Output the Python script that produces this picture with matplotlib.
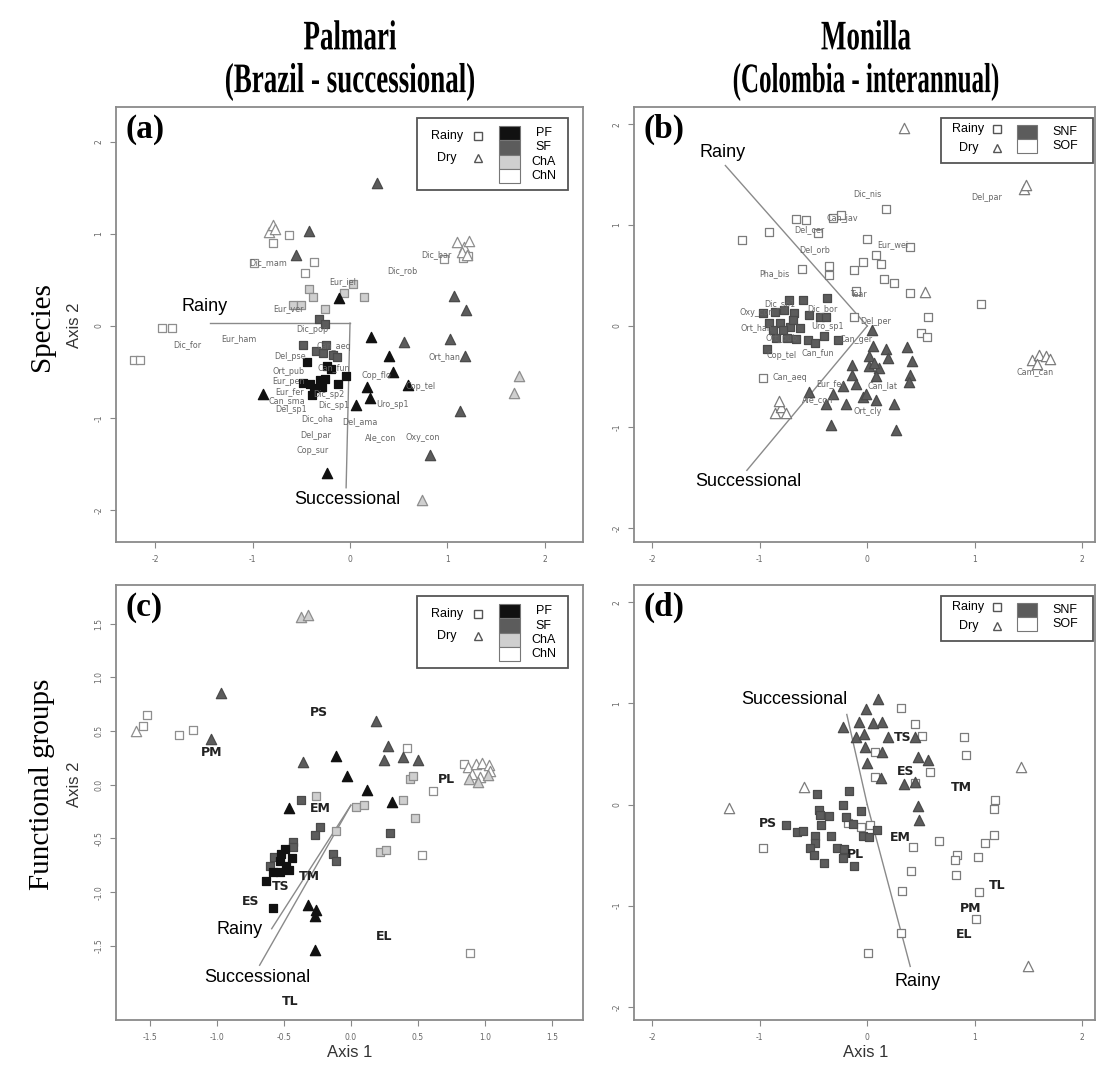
import numpy as np
import matplotlib
matplotlib.use("Agg")
import matplotlib.pyplot as plt
from matplotlib.patches import Rectangle, PathPatch
from matplotlib.textpath import TextPath
from matplotlib.font_manager import FontProperties
from matplotlib.transforms import Affine2D

plt.rcParams["axes.unicode_minus"] = False

# ---------------- panel (a): Palmari, species ----------------
A_PF_RAINY = [(-0.44, -0.39), (-0.24, -0.44), (-0.48, -0.62), (-0.41, -0.63), (-0.31, -0.59),
              (-0.26, -0.58), (-0.12, -0.63), (-0.04, -0.55), (-0.39, -0.75), (-0.29, -0.67),
              (-0.37, -0.68), (-0.20, -0.47)]
A_SF_RAINY = [(-0.32, 0.08), (-0.26, 0.02), (-0.48, -0.21), (-0.35, -0.27), (-0.28, -0.30),
              (-0.17, -0.32), (-0.13, -0.34), (-0.25, -0.21)]
A_CHA_RAINY = [(-0.42, 0.40), (-0.38, 0.31), (-0.06, 0.36), (0.03, 0.46), (0.14, 0.31),
               (-0.26, 0.18), (-0.58, 0.23), (-0.50, 0.23)]
A_CHN_RAINY = [(-0.63, 0.99), (-0.79, 0.90), (-0.98, 0.68), (-0.37, 0.69), (-0.46, 0.57),
               (-1.93, -0.02), (-1.83, -0.02), (-2.22, -0.37), (-2.15, -0.37),
               (0.96, 0.73), (1.16, 0.74), (1.21, 0.76)]
A_PF_DRY = [(-0.11, 0.30), (0.22, -0.12), (0.40, -0.33), (0.44, -0.50), (0.59, -0.64),
            (0.17, -0.67), (0.21, -0.78), (0.06, -0.86), (-0.89, -0.74), (-0.24, -1.60)]
A_SF_DRY = [(0.28, 1.55), (-0.42, 1.03), (-0.55, 0.77), (1.07, 0.33), (1.19, 0.17),
            (0.55, -0.18), (1.03, -0.14), (1.18, -0.33), (1.13, -0.93), (0.82, -1.40)]
A_CHA_DRY = [(1.73, -0.54), (1.68, -0.73), (0.74, -1.89)]
A_CHN_DRY = [(-0.83, 1.02), (-0.79, 1.10), (-0.77, 1.05), (1.10, 0.91), (1.17, 0.86),
             (1.22, 0.92), (1.15, 0.80), (1.20, 0.77)]
A_SPECIES = ["Dic_mam", "Dic_rob", "Dic_bar", "Eur_iel", "Eur_ver", "Dic_for", "Eur_ham",
             "Dic_pop", "Can_aeq", "Del_pse", "Can_fun", "Ort_pub", "Eur_pen", "Eur_fer",
             "Dic_sp2", "Can_sma", "Del_sp1", "Dic_sp1", "Uro_sp1", "Cop_flo", "Cop_tel",
             "Ort_han", "Dic_oha", "Del_ama", "Del_par", "Ale_con", "Oxy_con", "Cop_sur"]
A_SPECIES_XY = [(-0.84, 0.69), (0.54, 0.60), (0.89, 0.77), (-0.08, 0.48), (-0.63, 0.19),
                (-1.67, -0.20), (-1.14, -0.14), (-0.39, -0.04), (-0.17, -0.22), (-0.62, -0.33),
                (-0.17, -0.45), (-0.63, -0.50), (-0.63, -0.60), (-0.62, -0.71), (-0.22, -0.75),
                (-0.65, -0.81), (-0.60, -0.91), (-0.17, -0.87), (0.44, -0.86), (0.27, -0.54),
                (0.72, -0.66), (0.97, -0.33), (-0.34, -1.01), (0.10, -1.04), (-0.35, -1.19),
                (0.31, -1.21), (0.75, -1.21), (-0.38, -1.36)]
A_ORIGIN = (0.0, 0.03)
A_VECTORS = {"Rainy": (-1.44, 0.03), "Successional": (-0.04, -1.76)}
A_VECTOR_LABELS = {"Rainy": (-1.49, 0.21), "Successional": (-0.03, -1.89)}

# ---------------- panel (b): Monilla, species ----------------
B_SNF_RAINY = [(-0.73, 0.26), (-0.60, 0.26), (-0.37, 0.28), (-0.97, 0.13), (-0.86, 0.14),
               (-0.77, 0.16), (-0.68, 0.13), (-0.54, 0.11), (-0.44, 0.09), (-0.38, 0.09),
               (-0.91, 0.03), (-0.81, 0.03), (-0.72, -0.01), (-0.63, -0.02), (-0.75, -0.12),
               (-0.66, -0.13), (-0.55, -0.14), (-0.49, -0.17), (-0.40, -0.10), (-0.27, -0.14),
               (-0.85, -0.12), (-0.93, -0.23), (-0.78, -0.04), (-0.88, -0.04), (-0.69, 0.06)]
B_SOF_RAINY = [(-1.17, 0.85), (-0.91, 0.93), (-0.66, 1.06), (-0.57, 1.05), (-0.24, 1.10),
               (-0.32, 1.07), (-0.46, 0.92), (0.17, 1.16), (0.00, 0.86), (0.40, 0.78),
               (0.08, 0.70), (0.13, 0.61), (-0.04, 0.63), (-0.12, 0.55), (-0.61, 0.56),
               (-0.36, 0.59), (-0.36, 0.51), (0.16, 0.47), (0.25, 0.43), (-0.10, 0.35),
               (0.40, 0.33), (1.06, 0.22), (0.57, 0.09), (-0.12, 0.09), (0.50, -0.07),
               (0.56, -0.11), (-0.97, -0.52)]
B_SNF_DRY = [(0.04, -0.04), (0.05, -0.20), (0.17, -0.23), (0.37, -0.21), (0.19, -0.32),
             (0.02, -0.30), (-0.14, -0.39), (0.02, -0.40), (0.11, -0.42), (0.42, -0.35),
             (-0.14, -0.49), (-0.10, -0.57), (0.08, -0.50), (0.40, -0.49), (0.39, -0.55),
             (-0.23, -0.59), (-0.32, -0.67), (-0.54, -0.65), (-0.38, -0.77), (-0.20, -0.77),
             (-0.04, -0.70), (-0.01, -0.67), (0.08, -0.73), (0.25, -0.77), (-0.34, -0.98),
             (0.27, -1.03), (0.06, -0.37)]
B_SOF_DRY = [(0.34, 1.96), (1.46, 1.36), (1.48, 1.40), (0.54, 0.34), (1.53, -0.34),
             (1.60, -0.29), (1.66, -0.30), (1.70, -0.33), (1.58, -0.38), (-0.86, -0.86),
             (-0.80, -0.80), (-0.76, -0.86), (-0.82, -0.74)]
B_SPECIES = ["Dic_nis", "Del_par", "Can_jav", "Del_cer", "Eur_wei", "Del_orb", "Pha_bis",
             "Tear", "Dic_sp1", "Dic_bor", "Oxy_con", "Ort_han", "Uro_sp1", "Del_per",
             "Ort_pub", "Can_ger", "Cop_tel", "Can_fun", "Can_aeq", "Eur_fer", "Can_lat",
             "Ale_con", "Ort_cly", "Cam_can"]
B_SPECIES_XY = [(0.00, 1.31), (1.11, 1.27), (-0.23, 1.07), (-0.54, 0.95), (0.24, 0.81),
                (-0.49, 0.76), (-0.86, 0.52), (-0.08, 0.31), (-0.81, 0.21), (-0.42, 0.17),
                (-1.03, 0.13), (-1.03, -0.02), (-0.37, 0.00), (0.08, 0.04), (-0.80, -0.12),
                (-0.10, -0.13), (-0.80, -0.29), (-0.46, -0.26), (-0.72, -0.51), (-0.34, -0.57),
                (0.14, -0.59), (-0.46, -0.73), (0.00, -0.85), (1.56, -0.45)]
B_ORIGIN = (0.0, 0.0)
B_VECTORS = {"Rainy": (-1.32, 1.59), "Successional": (-1.12, -1.43)}
B_VECTOR_LABELS = {"Rainy": (-1.35, 1.72), "Successional": (-1.11, -1.54)}

# ---------------- panel (c): Palmari, functional groups ----------------
C_PF_RAINY = [(-0.49, -0.60), (-0.52, -0.64), (-0.44, -0.68), (-0.53, -0.71), (-0.58, -0.81),
              (-0.53, -0.81), (-0.46, -0.79), (-0.63, -0.90), (-0.58, -1.15), (-0.48, -0.76)]
C_SF_RAINY = [(-0.37, -0.14), (-0.23, -0.39), (-0.27, -0.47), (-0.13, -0.64), (-0.11, -0.71),
              (0.29, -0.45), (-0.43, -0.53), (-0.43, -0.58), (-0.57, -0.67), (-0.60, -0.76)]
C_CHA_RAINY = [(-0.26, -0.10), (0.04, -0.21), (0.10, -0.19), (-0.11, -0.43), (0.48, -0.31),
               (0.22, -0.63), (0.26, -0.61), (0.44, 0.05), (0.46, 0.08), (0.39, -0.14)]
C_CHN_RAINY = [(-1.55, 0.55), (-1.52, 0.65), (-1.28, 0.46), (-1.18, 0.51), (0.42, 0.34),
               (0.61, -0.06), (0.84, 0.19), (0.53, -0.65), (0.89, -1.57)]
C_PF_DRY = [(-0.11, 0.27), (-0.03, 0.08), (0.12, -0.05), (0.31, -0.16), (-0.46, -0.22),
            (-0.32, -1.12), (-0.26, -1.17), (-0.27, -1.22), (-0.27, -1.54)]
C_SF_DRY = [(-0.97, 0.85), (-1.04, 0.43), (-0.36, 0.21), (0.19, 0.59), (0.28, 0.36),
            (0.25, 0.23), (0.39, 0.26), (0.50, 0.23)]
C_CHA_DRY = [(-0.37, 1.56), (-0.32, 1.58), (0.88, 0.05), (0.95, 0.03), (1.02, 0.09)]
C_CHN_DRY = [(-1.60, 0.50), (0.87, 0.17), (0.93, 0.19), (0.98, 0.20), (1.03, 0.18),
             (0.90, 0.10), (0.96, 0.07), (1.04, 0.13)]
C_GROUPS = ["PS", "PM", "EM", "PL", "TM", "TS", "ES", "EL", "TL"]
C_GROUPS_XY = [(-0.24, 0.67), (-1.04, 0.30), (-0.23, -0.22), (0.71, 0.05), (-0.31, -0.85),
               (-0.52, -0.95), (-0.75, -1.09), (0.25, -1.41), (-0.45, -2.02)]
C_ORIGIN = (0.0, -0.19)
C_VECTORS = {"Rainy": (-0.59, -1.34), "Successional": (-0.68, -1.68)}
C_VECTOR_LABELS = {"Rainy": (-0.83, -1.35), "Successional": (-0.70, -1.79)}

# ---------------- panel (d): Monilla, functional groups ----------------
D_SNF_RAINY = [(-0.47, 0.10), (-0.17, 0.13), (-0.23, 0.00), (-0.06, -0.06), (-0.45, -0.05),
               (-0.44, -0.10), (-0.36, -0.11), (-0.20, -0.12), (-0.13, -0.19), (-0.43, -0.20),
               (-0.76, -0.20), (-0.65, -0.27), (-0.60, -0.26), (-0.49, -0.31), (-0.34, -0.31),
               (-0.04, -0.31), (0.02, -0.32), (0.09, -0.25), (-0.49, -0.38), (-0.53, -0.43),
               (-0.50, -0.50), (-0.28, -0.43), (-0.22, -0.44), (-0.23, -0.53), (-0.12, -0.61),
               (-0.40, -0.58)]
D_SOF_RAINY = [(0.31, 0.95), (0.44, 0.80), (0.51, 0.68), (0.90, 0.67), (0.92, 0.49),
               (0.58, 0.32), (0.07, 0.52), (0.07, 0.27), (0.44, 0.21), (1.19, 0.04),
               (1.18, -0.04), (-0.18, -0.18), (-0.06, -0.22), (0.03, -0.20), (-0.97, -0.43),
               (0.43, -0.42), (0.67, -0.36), (1.18, -0.30), (1.10, -0.38), (0.84, -0.50),
               (0.82, -0.55), (1.03, -0.52), (0.83, -0.70), (0.41, -0.66), (0.32, -0.85),
               (1.04, -0.86), (1.01, -1.13), (0.31, -1.27), (0.01, -1.47)]
D_SNF_DRY = [(0.10, 1.04), (-0.01, 0.94), (-0.23, 0.77), (-0.08, 0.82), (0.05, 0.81),
             (0.14, 0.82), (-0.10, 0.67), (-0.03, 0.70), (0.19, 0.67), (-0.02, 0.57),
             (0.14, 0.52), (0.00, 0.41), (0.13, 0.26), (0.34, 0.20), (0.44, 0.22),
             (0.47, 0.47), (0.57, 0.44), (0.47, -0.01), (0.48, -0.15), (0.44, 0.67)]
D_SOF_DRY = [(-1.29, -0.03), (-0.59, 0.17), (1.43, 0.37), (1.50, -1.60)]
D_GROUPS = ["TS", "ES", "TM", "PS", "EM", "PL", "TL", "PM", "EL"]
D_GROUPS_XY = [(0.33, 0.66), (0.36, 0.33), (0.88, 0.17), (-0.92, -0.19), (0.31, -0.33),
               (-0.11, -0.49), (1.21, -0.80), (0.96, -1.03), (0.90, -1.28)]
D_ORIGIN = (0.0, 0.0)
D_VECTORS = {"Successional": (-0.19, 0.89), "Rainy": (0.40, -1.60)}
D_VECTOR_LABELS = {"Successional": (-0.68, 1.04), "Rainy": (0.47, -1.75)}

SEASONS = ["Rainy", "Dry"]
PALMARI_STAGES = ["PF", "SF", "ChA", "ChN"]
MONILLA_STAGES = ["SNF", "SOF"]

# marker face / edge per stage
STAGE_STYLE = {"PF": ("#111111", "#111111"), "SF": ("#5c5c5c", "#4a4a4a"),
               "ChA": ("#cfcfcf", "#8e8e8e"), "ChN": ("#ffffff", "#8e8e8e"),
               "SNF": ("#5c5c5c", "#4a4a4a"), "SOF": ("#ffffff", "#7c7c7c")}


def plot_group(ax, pts, stage, marker):
    pts = np.array(pts)
    face, edge = STAGE_STYLE[stage]
    size = 40 if marker == "s" else 55
    ax.scatter(pts[:, 0], pts[:, 1], marker=marker, s=size, c=face,
               edgecolors=edge, linewidths=0.9, zorder=3)


def style_axes(ax, xlim, ylim, xticks, yticks, fmt):
    ax.set_xlim(*xlim)
    ax.set_ylim(*ylim)
    ax.set_xticks(xticks)
    ax.set_yticks(yticks)
    ax.set_xticklabels([fmt.format(v) for v in xticks])
    ax.set_yticklabels([fmt.format(v) for v in yticks], rotation=90, va="center")
    ax.tick_params(length=4, width=0.8, color="#888888", labelsize=5.5,
                   labelcolor="#666666", pad=5)
    for sp in ax.spines.values():
        sp.set_color("#8a8a8a")
        sp.set_linewidth(1.3)


def draw_vectors(ax, origin, vectors, labels):
    for name, end in vectors.items():
        ax.plot([origin[0], end[0]], [origin[1], end[1]], color="#8a8a8a", lw=1.0, zorder=2)
        lx, ly = labels[name]
        ax.text(lx, ly, name, ha="center", va="center", fontsize=13,
                family="Liberation Sans", color="black", zorder=6)


def draw_legend(ax, stages, lay):
    x0, y0, x1, y1 = lay["box"]
    ax.add_patch(Rectangle((x0, y0), x1 - x0, y1 - y0, transform=ax.transAxes,
                           facecolor="white", edgecolor="#555555", lw=1.3, zorder=7))
    for season, ry, mk in zip(SEASONS, lay["rows"], ["s", "^"]):
        ax.text(lay["text_x"], ry, season, transform=ax.transAxes, ha="center",
                va="center", fontsize=9, family="Liberation Sans", zorder=8)
        ax.plot([lay["mark_x"]], [ry], marker=mk, ms=6, mfc="white", mec="#555555",
                mew=1.0, transform=ax.transAxes, zorder=8, clip_on=False)
    cx0, cx1, ctop, cbot = lay["col"]
    h = (ctop - cbot) / len(stages)
    for i, st in enumerate(stages):
        yb = ctop - (i + 1) * h
        ax.add_patch(Rectangle((cx0, yb), cx1 - cx0, h, transform=ax.transAxes,
                               facecolor=STAGE_STYLE[st][0], edgecolor="#777777",
                               lw=0.8, zorder=8))
        ax.text(lay["lab_x"], yb + h / 2, st, transform=ax.transAxes, ha="center",
                va="center", fontsize=9, family="Liberation Sans", zorder=8)


LEG4 = dict(box=(0.645, 0.809, 0.968, 0.975), text_x=0.709, mark_x=0.775,
            rows=(0.933, 0.883), col=(0.820, 0.865, 0.956, 0.825), lab_x=0.916)
LEG2 = dict(box=(0.665, 0.871, 0.996, 0.975), text_x=0.725, mark_x=0.787,
            rows=(0.949, 0.906), col=(0.831, 0.874, 0.959, 0.894), lab_x=0.935)


def condensed_title(fig, s, cx, cy, sx, sy):
    # bold serif text squeezed horizontally, placed in figure pixels
    fp = FontProperties(family="Liberation Serif", weight="bold")
    tp = TextPath((0, 0), s, size=1, prop=fp)
    ext = tp.get_extents()
    W, H = fig.get_size_inches() * fig.dpi
    tr = (Affine2D().translate(-(ext.x0 + ext.x1) / 2, -(ext.y0 + ext.y1) / 2)
          .scale(sx / W, sy / H).translate(cx / W, 1 - cy / H) + fig.transFigure)
    fig.add_artist(PathPatch(tp, transform=tr, facecolor="black", lw=0))


fig = plt.figure(figsize=(11, 10.72), dpi=100)
axa = fig.add_axes([0.1055, 0.4944, 0.4245, 0.4058])
axb = fig.add_axes([0.5764, 0.4944, 0.4191, 0.4058])
axc = fig.add_axes([0.1055, 0.0485, 0.4245, 0.4058])
axd = fig.add_axes([0.5764, 0.0485, 0.4191, 0.4058])

# (a)
for pts, st in [(A_CHN_RAINY, "ChN"), (A_CHA_RAINY, "ChA"), (A_SF_RAINY, "SF"), (A_PF_RAINY, "PF")]:
    plot_group(axa, pts, st, "s")
for pts, st in [(A_CHN_DRY, "ChN"), (A_CHA_DRY, "ChA"), (A_SF_DRY, "SF"), (A_PF_DRY, "PF")]:
    plot_group(axa, pts, st, "^")
for name, (x, y) in zip(A_SPECIES, A_SPECIES_XY):
    axa.text(x, y, name, fontsize=5.8, color="#666666", ha="center", va="center", zorder=4)
draw_vectors(axa, A_ORIGIN, A_VECTORS, A_VECTOR_LABELS)
style_axes(axa, (-2.40, 2.39), (-2.35, 2.38), [-2, -1, 0, 1, 2], [-2, -1, 0, 1, 2], "{:g}")
draw_legend(axa, PALMARI_STAGES, LEG4)

# (b)
plot_group(axb, B_SOF_RAINY, "SOF", "s")
plot_group(axb, B_SNF_RAINY, "SNF", "s")
plot_group(axb, B_SOF_DRY, "SOF", "^")
plot_group(axb, B_SNF_DRY, "SNF", "^")
for name, (x, y) in zip(B_SPECIES, B_SPECIES_XY):
    axb.text(x, y, name, fontsize=5.8, color="#666666", ha="center", va="center", zorder=4)
draw_vectors(axb, B_ORIGIN, B_VECTORS, B_VECTOR_LABELS)
style_axes(axb, (-2.17, 2.12), (-2.14, 2.17), [-2, -1, 0, 1, 2], [-2, -1, 0, 1, 2], "{:g}")
draw_legend(axb, MONILLA_STAGES, LEG2)

# (c)
for pts, st in [(C_CHN_RAINY, "ChN"), (C_CHA_RAINY, "ChA"), (C_SF_RAINY, "SF"), (C_PF_RAINY, "PF")]:
    plot_group(axc, pts, st, "s")
for pts, st in [(C_CHN_DRY, "ChN"), (C_CHA_DRY, "ChA"), (C_SF_DRY, "SF"), (C_PF_DRY, "PF")]:
    plot_group(axc, pts, st, "^")
for name, (x, y) in zip(C_GROUPS, C_GROUPS_XY):
    axc.text(x, y, name, fontsize=9, weight="bold", color="#222222", ha="center",
             va="center", zorder=5)
draw_vectors(axc, C_ORIGIN, C_VECTORS, C_VECTOR_LABELS)
cticks = [-1.5, -1.0, -0.5, 0.0, 0.5, 1.0, 1.5]
style_axes(axc, (-1.75, 1.73), (-2.19, 1.86), cticks, cticks, "{:.1f}")
draw_legend(axc, PALMARI_STAGES, LEG4)

# (d)
plot_group(axd, D_SOF_RAINY, "SOF", "s")
plot_group(axd, D_SNF_RAINY, "SNF", "s")
plot_group(axd, D_SOF_DRY, "SOF", "^")
plot_group(axd, D_SNF_DRY, "SNF", "^")
for name, (x, y) in zip(D_GROUPS, D_GROUPS_XY):
    axd.text(x, y, name, fontsize=9, weight="bold", color="#222222", ha="center",
             va="center", zorder=5)
draw_vectors(axd, D_ORIGIN, D_VECTORS, D_VECTOR_LABELS)
style_axes(axd, (-2.17, 2.12), (-2.13, 2.17), [-2, -1, 0, 1, 2], [-2, -1, 0, 1, 2], "{:g}")
draw_legend(axd, MONILLA_STAGES, LEG2)

for ax, letter in zip([axa, axb, axc, axd], ["(a)", "(b)", "(c)", "(d)"]):
    ax.text(0.02, 0.985, letter, transform=ax.transAxes, ha="left", va="top",
            fontsize=24, weight="bold", family="Liberation Serif", zorder=9)

# column titles
condensed_title(fig, "Palmari", 350, 35, 27, 42)
condensed_title(fig, "(Brazil - successional)", 350, 82, 27, 42)
condensed_title(fig, "Monilla", 866, 35, 27, 42)
condensed_title(fig, "(Colombia - interannual)", 866, 82, 25, 42)

# row titles and axis names
fig.text(0.038, 0.695, "Species", rotation=90, ha="center", va="center",
         fontsize=21, family="Liberation Serif")
fig.text(0.038, 0.268, "Functional groups", rotation=90, ha="center", va="center",
         fontsize=21, family="Liberation Serif")
for yf in (0.697, 0.268):
    fig.text(0.068, yf, "Axis 2", rotation=90, ha="center", va="center", fontsize=12,
             family=["Liberation Sans Narrow", "Liberation Sans"], color="#333333")
for xf in (0.318, 0.787):
    fig.text(xf, 0.018, "Axis 1", ha="center", va="center", fontsize=12,
             family=["Liberation Sans Narrow", "Liberation Sans"], color="#333333")

fig.savefig("out.png", dpi=100, facecolor="white")
